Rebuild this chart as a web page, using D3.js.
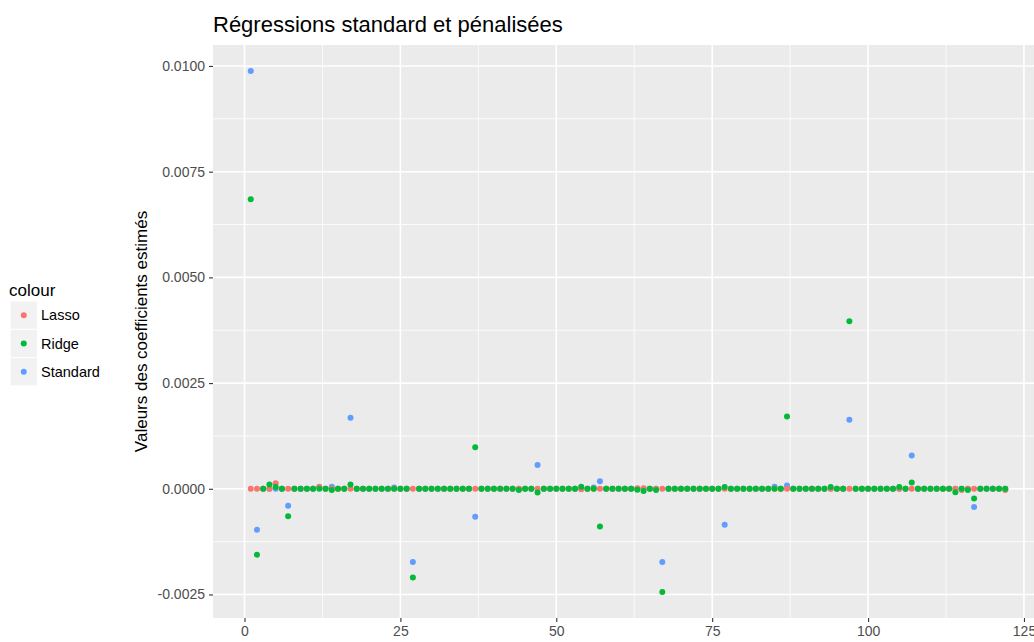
<!DOCTYPE html>
<html>
<head>
<meta charset="utf-8">
<script src="https://cdn.jsdelivr.net/npm/d3@7"></script>
<style>
  body { margin: 0; background: #fff; }
  svg text { font-family: "Liberation Sans", Arial, sans-serif; }
</style>
</head>
<body>
<svg id="chart" width="1034" height="642"></svg>
<script>
// coefficient index 1..122
var idx = d3.range(1, 123);

// estimated coefficients (index 1 first, 10 per row)
var lasso = [
  0, 0, 0, 0, 0.00013, 0, 0, 0, 0, 0,
  0, 0.00005, 0, 0, 0, 0, 0, 0, 0, 0,
  0, 0, 0, 0, 0, 0, 0, 0, 0, 0,
  0, 0, 0, 0, 0, 0, 0, 0, 0, 0,
  0, 0, 0, 0, 0, 0, 0, 0, 0, 0,
  0, 0, 0, -0.00001, 0, 0, 0, 0, 0, 0,
  0, 0, 0.00001, 0.00001, 0, 0, 0, 0, 0, 0,
  0, 0, 0, 0, 0, 0, 0, 0, 0, 0,
  0, 0, 0, 0, 0, 0, 0, 0, 0, 0,
  0, 0, 0, 0, 0, 0, 0, 0, 0, 0,
  0, 0, 0, 0, 0, 0, 0, 0, 0, 0,
  0, 0, 0, 0, -0.00003, 0, 0, 0, 0, 0,
  0, -0.00003
];
var ridge = [
  0.00685, -0.00156, 0, 0.0001, 0.00004, 0, -0.00065, 0, 0, 0,
  0, 0, 0, -0.00003, 0, 0, 0.0001, 0, 0, 0,
  0, 0, 0, 0, 0, 0, -0.0021, 0, 0, 0,
  0, 0, 0, 0, 0, 0, 0.00098, 0, 0, 0,
  0, 0, 0, -0.00003, 0, 0, -0.00009, 0, 0, 0,
  0, 0, 0, 0.00005, 0, 0, -0.00089, 0, 0, 0,
  0, 0, -0.00002, -0.00005, 0, -0.00003, -0.00244, 0, 0, 0,
  0, 0, 0, 0, 0, 0, 0.00004, 0, 0, 0,
  0, 0, 0, 0, 0, 0, 0.00171, 0, 0, 0,
  0, 0, 0, 0.00004, 0, 0, 0.00396, 0, 0, 0,
  0, 0, 0, 0, 0.00004, 0, 0.00015, 0, 0, 0,
  0, 0, 0, -0.00008, 0, -0.00003, -0.00023, 0, 0, 0,
  0, 0
];
var standard = [
  0.00988, -0.00097, 0, 0, 0, 0, -0.0004, 0, 0, 0,
  0, 0.00004, 0, 0.00005, 0, 0, 0.00168, 0, 0, 0,
  0, 0, 0, 0.00003, 0, 0, -0.00173, 0, 0, 0,
  0, 0, 0, 0, 0, 0, -0.00066, 0, 0, 0,
  0, 0, 0, 0, 0, 0, 0.00056, 0, 0, 0,
  0, 0, 0, 0, 0, 0.00003, 0.00018, 0, 0, 0,
  0, 0, 0, 0, 0, 0, -0.00173, 0, 0, 0,
  0, 0, 0, 0, 0, 0, -0.00085, 0, 0, 0,
  0, 0, 0, 0, 0.00005, 0, 0.00008, 0, 0, 0,
  0, 0, 0, 0, 0, 0, 0.00163, 0, 0, 0,
  0, 0, 0, 0, 0, 0, 0.00079, 0, 0, 0,
  0, 0, 0, 0, 0, 0, -0.00043, 0, 0, 0,
  0, 0
];

var seriesNames = ["Lasso", "Ridge", "Standard"];
var seriesColors = ["#F8766D", "#00BA38", "#619CFF"];
var xTicks = [0, 25, 50, 75, 100, 125];
var yTicks = [-0.0025, 0, 0.0025, 0.005, 0.0075, 0.01];

var svg = d3.select("#chart");

// panel box (right side runs past the picture, as in the original)
var pLeft = 213, pTop = 45, pRight = 1043, pBottom = 618;

// ggplot style 5% expansion
var xExt = d3.extent(idx), xPad = (xExt[1] - xExt[0]) * 0.05;
var allVals = lasso.concat(ridge, standard);
var yExt = d3.extent(allVals), yPad = (yExt[1] - yExt[0]) * 0.05;

var x = d3.scaleLinear()
  .domain([xExt[0] - xPad, xExt[1] + xPad])
  .range([pLeft, pRight]);
var y = d3.scaleLinear()
  .domain([yExt[0] - yPad, yExt[1] + yPad])
  .range([pBottom, pTop]);

// panel background
svg.append("rect")
  .attr("x", pLeft).attr("y", pTop)
  .attr("width", pRight - pLeft).attr("height", pBottom - pTop)
  .attr("fill", "#EBEBEB");

// minor grid
var xMinor = xTicks.slice(0, -1).map(function(t){ return t + 12.5; });
var yMinor = yTicks.slice(0, -1).map(function(t){ return t + 0.00125; });
var grid = svg.append("g");
grid.selectAll(".vminor").data(xMinor).enter().append("line")
  .attr("x1", d => x(d)).attr("x2", d => x(d))
  .attr("y1", pTop).attr("y2", pBottom)
  .attr("stroke", "#fff").attr("stroke-width", 0.8);
grid.selectAll(".hminor").data(yMinor).enter().append("line")
  .attr("x1", pLeft).attr("x2", pRight)
  .attr("y1", d => y(d)).attr("y2", d => y(d))
  .attr("stroke", "#fff").attr("stroke-width", 0.8);
// major grid
grid.selectAll(".vmajor").data(xTicks).enter().append("line")
  .attr("x1", d => x(d)).attr("x2", d => x(d))
  .attr("y1", pTop).attr("y2", pBottom)
  .attr("stroke", "#fff").attr("stroke-width", 1.6);
grid.selectAll(".hmajor").data(yTicks).enter().append("line")
  .attr("x1", pLeft).attr("x2", pRight)
  .attr("y1", d => y(d)).attr("y2", d => y(d))
  .attr("stroke", "#fff").attr("stroke-width", 1.6);

// axes
var xAxis = svg.append("g")
  .attr("transform", "translate(0," + pBottom + ")")
  .call(d3.axisBottom(x).tickValues(xTicks).tickSize(4).tickPadding(4).tickFormat(d3.format("d")));
var yAxis = svg.append("g")
  .attr("transform", "translate(" + pLeft + ",0)")
  .call(d3.axisLeft(y).tickValues(yTicks).tickSize(4).tickPadding(4));
[xAxis, yAxis].forEach(function(a){
  a.select(".domain").remove();
  a.selectAll("line").attr("stroke", "#333").attr("stroke-width", 1.1);
  a.selectAll("text").attr("fill", "#4D4D4D").style("font-size", "14px");
});
// ascii minus like R
yAxis.selectAll("text").text(function(d){ return d.toFixed(4); });

// points: Standard underneath, then Lasso, then Ridge on top
var drawOrder = [2, 0, 1];
var series = [lasso, ridge, standard];
drawOrder.forEach(function(s){
  svg.append("g").selectAll("circle")
    .data(idx)
    .enter().append("circle")
      .attr("cx", function(d){ return x(d); })
      .attr("cy", function(d, i){ return y(series[s][i]); })
      .attr("r", 3)
      .attr("fill", seriesColors[s]);
});

// title
svg.append("text")
  .text("Régressions standard et pénalisées")
  .attr("x", pLeft).attr("y", 32)
  .style("font-size", "22px").attr("fill", "#000");

// y axis title
svg.append("text")
  .text("Valeurs des coefficients estimés")
  .attr("transform", "translate(147," + ((pTop + pBottom) / 2) + ") rotate(-90)")
  .style("text-anchor", "middle")
  .style("font-size", "17px").attr("fill", "#000");

// legend
var legend = svg.append("g");
legend.append("text").text("colour")
  .attr("x", 9).attr("y", 296)
  .style("font-size", "17px").attr("fill", "#000");
var keys = legend.selectAll(".key").data(seriesNames).enter().append("g")
  .attr("transform", function(d, i){ return "translate(10," + (301 + i * 28.3) + ")"; });
keys.append("rect")
  .attr("width", 27.5).attr("height", 28.3)
  .attr("fill", "#F2F2F2").attr("stroke", "#fff").attr("stroke-width", 1);
keys.append("circle")
  .attr("cx", 13.75).attr("cy", 14.15).attr("r", 3)
  .attr("fill", function(d, i){ return seriesColors[i]; });
keys.append("text").text(d => d)
  .attr("x", 31).attr("y", 14.15).attr("dy", "0.35em")
  .style("font-size", "14.5px").attr("fill", "#000");
</script>
</body>
</html>
